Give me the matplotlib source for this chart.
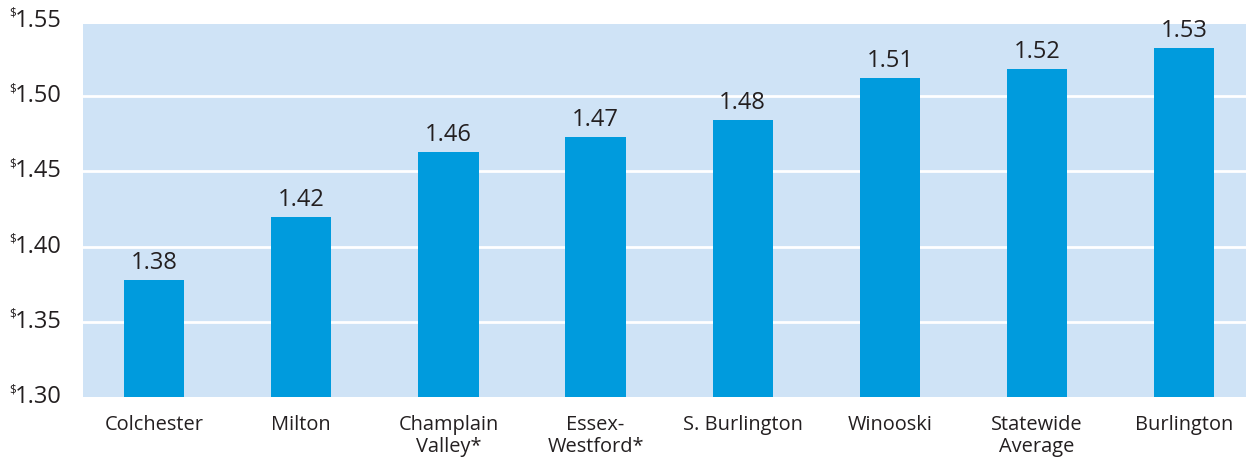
import matplotlib
matplotlib.use("Agg")
import matplotlib.pyplot as plt

categories = ["Colchester", "Milton", "Champlain\nValley*", "Essex-\nWestford*",
              "S. Burlington", "Winooski", "Statewide\nAverage", "Burlington"]
values = [1.378, 1.420, 1.463, 1.473, 1.484, 1.512, 1.518, 1.532]
value_labels = ["1.38", "1.42", "1.46", "1.47", "1.48", "1.51", "1.52", "1.53"]
yticks = [1.30, 1.35, 1.40, 1.45, 1.50, 1.55]
ytick_labels = ["1.30", "1.35", "1.40", "1.45", "1.50", "1.55"]

BG = "#cfe3f6"
BAR = "#009bdd"
TXT = "#231f20"
plt.rcParams['font.family'] = ['Open Sans', 'DejaVu Sans']

W, H = 1246, 459
fig = plt.figure(figsize=(W / 100, H / 100), dpi=100)
ax = fig.add_axes([83 / W, 1 - 397 / H, (W - 83) / W, (397 - 24) / H])
ax.set_facecolor(BG)
x = list(range(len(categories)))
ax.bar(x, values, width=0.41, color=BAR, zorder=3, bottom=0)
ax.set_ylim(1.30, 1.548)
ax.set_xlim(-0.483, 7.42)
for y in yticks[1:-1]:
    ax.axhline(y, color="white", lw=2, zorder=1)
for s in ax.spines.values():
    s.set_visible(False)
ax.set_yticks([])
ax.set_xticks(x)
ax.set_xticklabels(categories, fontsize=14.4, color=TXT, linespacing=1.1, va="top")
ax.tick_params(axis="x", length=0, pad=13)

for xi, v, lab in zip(x, values, value_labels):
    ax.annotate(lab, (xi, v), xytext=(0, 11), textcoords="offset pixels",
                ha="center", va="baseline", fontsize=17, color=TXT)

for y, lab in zip(yticks, ytick_labels):
    ax.annotate(lab, (0, y), xycoords=("axes fraction", "data"), xytext=(-21, -6),
                textcoords="offset pixels", ha="right", va="baseline",
                fontsize=17, color=TXT, annotation_clip=False)
    ax.annotate("$", (0, y), xycoords=("axes fraction", "data"), xytext=(-67, 4),
                textcoords="offset pixels", ha="right", va="baseline",
                fontsize=8.5, color=TXT, annotation_clip=False)

fig.savefig("out.png", dpi=100)
